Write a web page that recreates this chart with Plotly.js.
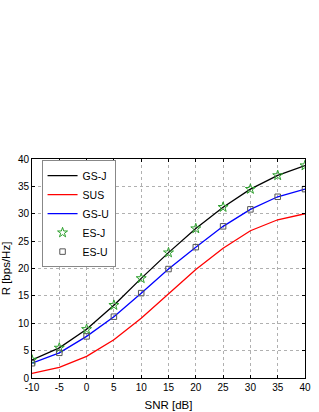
<!DOCTYPE html>
<html>
<head>
<meta charset="utf-8">
<script src="https://cdn.plot.ly/plotly-3.0.1.min.js"></script>
<style>html,body{margin:0;padding:0;background:#fff;}#chart{width:319px;height:412px;}</style>
</head>
<body>
<div id="chart"></div>
<script>
const snr = [-10, -5, 0, 5, 10, 15, 20, 25, 30, 35, 40];
const gsJ = [3.3, 5.5, 8.9, 13.3, 18.2, 22.9, 27.3, 31.2, 34.5, 37.0, 38.8];
const sus = [0.85, 1.95, 3.95, 7.0, 10.9, 15.4, 19.8, 23.7, 26.9, 28.9, 30.0];
const gsU = [2.7, 4.6, 7.6, 11.2, 15.5, 19.9, 23.9, 27.7, 30.8, 33.1, 34.5];
const esJ = [3.3, 5.5, 8.9, 13.3, 18.2, 22.9, 27.3, 31.2, 34.5, 37.0, 38.8];
const esU = [2.7, 4.6, 7.6, 11.2, 15.5, 19.9, 23.9, 27.7, 30.8, 33.1, 34.5];
const xTicks = [-10, -5, 0, 5, 10, 15, 20, 25, 30, 35, 40];
const yTicks = [0, 5, 10, 15, 20, 25, 30, 35, 40];

const traces = [
  {x: snr, y: gsJ, name: 'GS-J', mode: 'lines', line: {color: '#000000', width: 1.3}},
  {x: snr, y: sus, name: 'SUS', mode: 'lines', line: {color: '#ff0000', width: 1.3}},
  {x: snr, y: gsU, name: 'GS-U', mode: 'lines', line: {color: '#0000ff', width: 1.3}},
  {x: snr, y: esJ, name: 'ES-J', mode: 'markers', marker: {symbol: 'star-open', size: 7.5, color: '#2ca02c', line: {width: 1}}},
  {x: snr, y: esU, name: 'ES-U', mode: 'markers', marker: {symbol: 'square-open', size: 5.5, color: '#555555', line: {width: 1}}}
];

const axisCommon = {
  showline: true, linecolor: '#000', linewidth: 1, mirror: 'all',
  ticks: 'inside', ticklen: 3, tickcolor: '#000',
  showgrid: true, gridcolor: '#b0b0b0', griddash: 'dot', gridwidth: 1,
  zeroline: false,
  tickfont: {family: 'Liberation Sans, Arial, sans-serif', size: 10, color: '#000'}
};

const layout = {
  width: 319, height: 412,
  margin: {l: 32, r: 14, t: 159, b: 34},
  paper_bgcolor: '#fff', plot_bgcolor: '#fff',
  showlegend: true,
  legend: {
    x: 0.035, y: 0.995, xanchor: 'left', yanchor: 'top',
    bgcolor: '#fff', bordercolor: '#888', borderwidth: 1,
    font: {family: 'Liberation Sans, Arial, sans-serif', size: 10.5, color: '#000'},
    tracegroupgap: 0, itemwidth: 30
  },
  xaxis: Object.assign({}, axisCommon, {
    range: [-10, 40], tickvals: xTicks, ticktext: xTicks.map(String),
    title: {text: 'SNR [dB]', font: {family: 'Liberation Sans, Arial, sans-serif', size: 11.5, color: '#000'}, standoff: 8}
  }),
  yaxis: Object.assign({}, axisCommon, {
    range: [0, 40], tickvals: yTicks, ticktext: yTicks.map(String),
    title: {text: 'R [bps/Hz]', font: {family: 'Liberation Sans, Arial, sans-serif', size: 11.5, color: '#000'}, standoff: 4}
  })
};

Plotly.newPlot('chart', traces, layout, {displayModeBar: false, staticPlot: true});
</script>
</body>
</html>
